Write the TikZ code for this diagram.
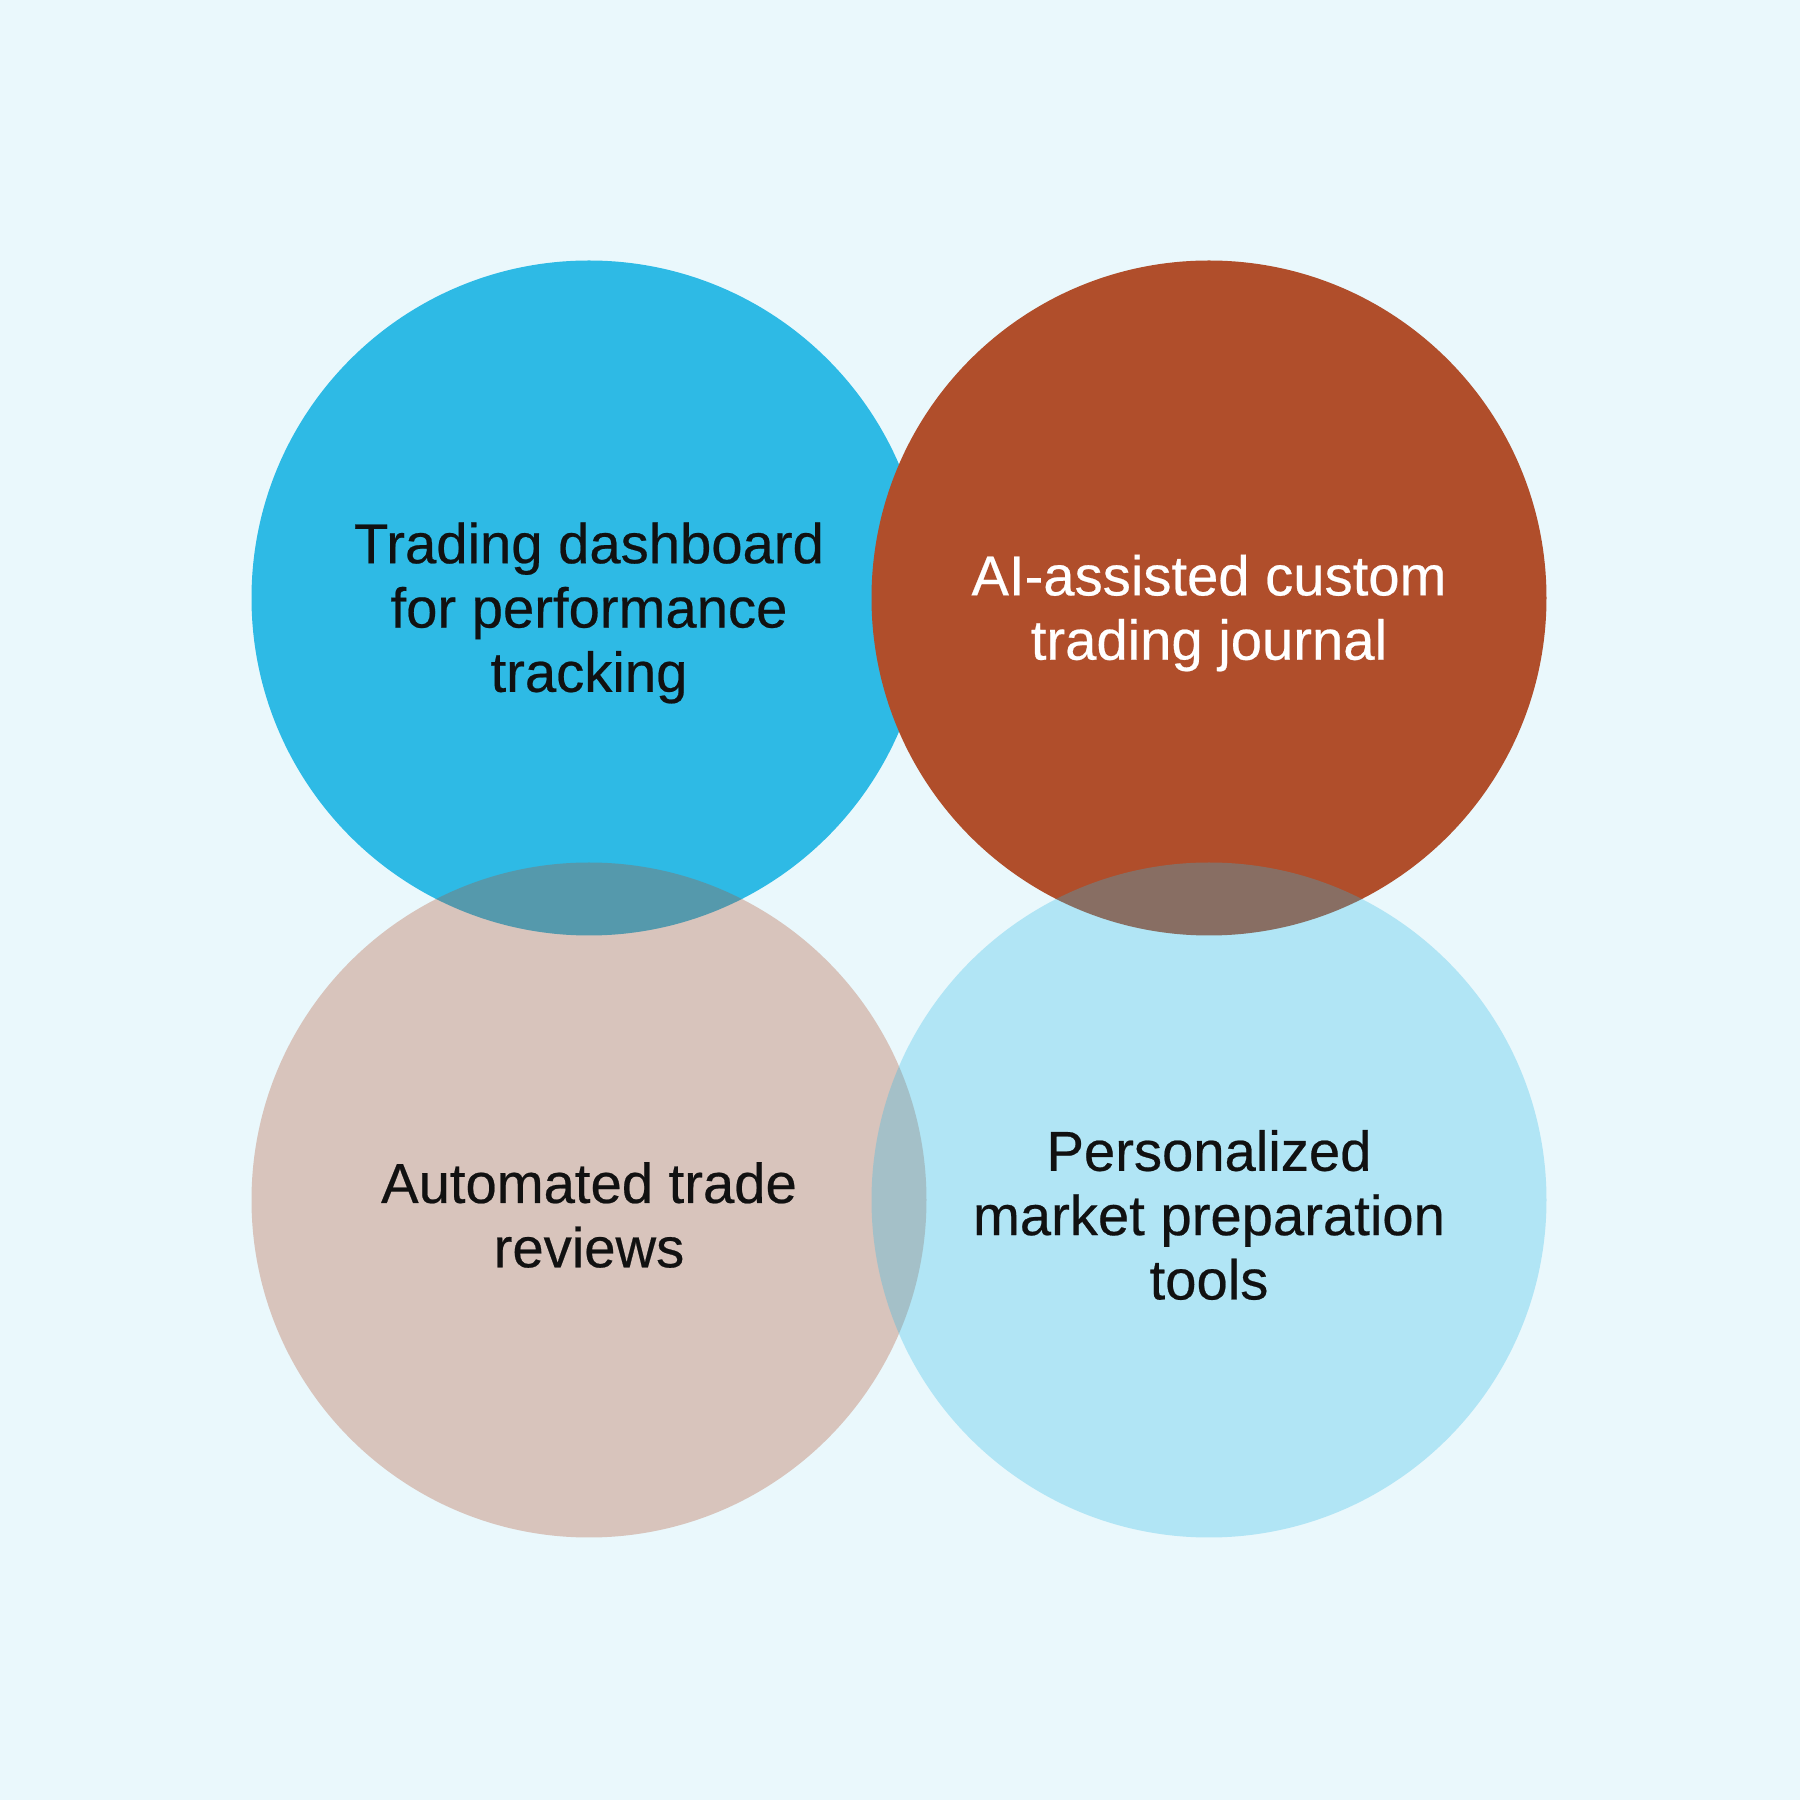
\documentclass[tikz,border=0pt]{standalone}
\usepackage{fontspec}
\setmainfont{Liberation Sans}
\newfontfamily\bubblefont{Liberation Sans}[FakeBold=0.4]
\usepackage{tikz}
\usetikzlibrary{positioning}

\definecolor{bgcol}{HTML}{EAF8FC}
\definecolor{skyblue}{HTML}{2EBAE5}
\definecolor{rust}{HTML}{B04E2B}
\definecolor{inkcol}{HTML}{111111}

\begin{document}
\begin{tikzpicture}[
bubble/.style={circle, minimum size=6.75cm, inner sep=0pt, outer sep=0pt},
solidbubble/.style={bubble, fill=#1},
softbubble/.style={bubble, fill=#1, fill opacity=0.3},
caption/.style={align=center, inner sep=0pt, text=inkcol, font=\bubblefont\fontsize{16}{18.3}\selectfont},
]
%Background
\fill[bgcol] (0,0) rectangle (18,18);
\useasboundingbox (0,0) rectangle (18,18);

%Circles
\node[solidbubble=skyblue]   (dashboard)                              at (5.89,12.02) {};
\node[solidbubble=rust]      (journal)      [right=-0.55cm of dashboard]  {};
\node[softbubble=rust]       (reviews)      [below=-0.73cm of dashboard]  {};
\node[softbubble=skyblue]    (prep)         [below=-0.73cm of journal]    {};

%Texts
\node[caption]              (dashboardtext)  at ([yshift=-0.15cm]dashboard.center) {Trading dashboard\\for performance\\tracking};
\node[caption, text=white]  (journaltext)    at ([yshift=-0.15cm]journal.center)   {AI-assisted custom\\trading journal};
\node[caption]              (reviewstext)    at ([yshift=-0.15cm]reviews.center)   {Automated trade\\reviews};
\node[caption]              (preptext)       at ([yshift=-0.15cm]prep.center)      {Personalized\\market preparation\\tools};

\end{tikzpicture}
\end{document}
